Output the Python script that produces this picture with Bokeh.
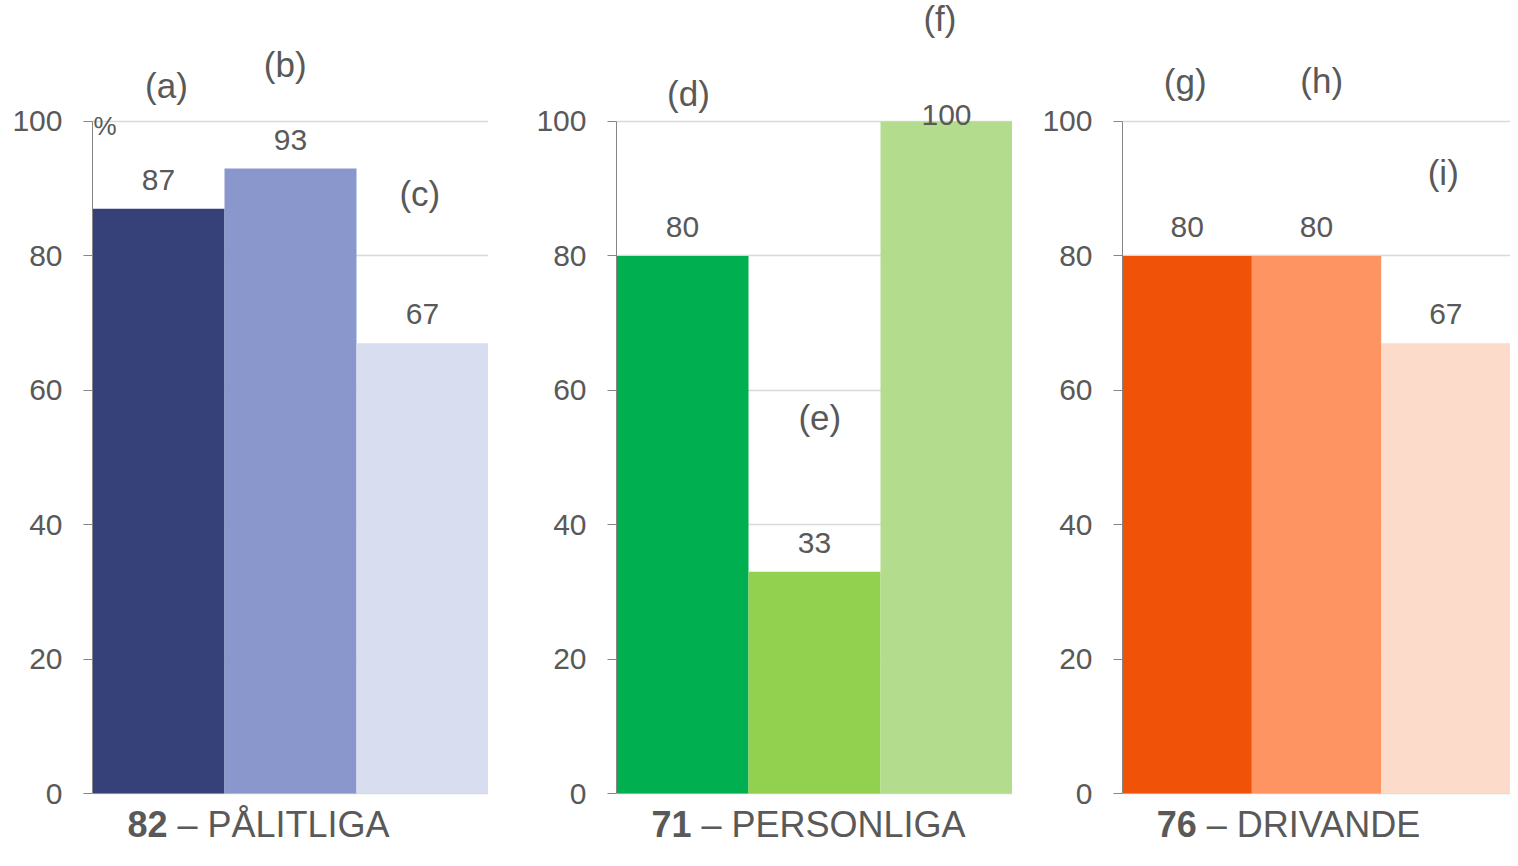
from bokeh.plotting import figure
from bokeh.models import ColumnDataSource, FixedTicker
from bokeh.layouts import row
from bokeh.core.properties import value
from bokeh.embed import file_html
from bokeh.resources import INLINE

# ---- data ----
panel_scores = ["82", "71", "76"]
panel_names = ["\u2013 P\u00c5LITLIGA", "\u2013 PERSONLIGA", "\u2013 DRIVANDE"]
letters = [["(a)", "(b)", "(c)"], ["(d)", "(e)", "(f)"], ["(g)", "(h)", "(i)"]]
values_palitliga = [87, 93, 67]
values_personliga = [80, 33, 100]
values_drivande = [80, 80, 67]
colors_palitliga = ["#36417A", "#8A97CD", "#D8DDF0"]
colors_personliga = ["#00AF50", "#92D050", "#B4DC8D"]
colors_drivande = ["#F05308", "#FD9462", "#FCDBCB"]
y_ticks = [0, 20, 40, 60, 80, 100]

# ---- layout (positions only) ----
letter_x = [[0.56, 1.46, 2.48], [0.545, 1.54, 2.45], [0.485, 1.54, 2.48]]
letter_y = [[105.3, 108.5, 89.3], [104.2, 55.9, 115.3], [105.9, 106.1, 92.4]]
left_borders = [92, 128, 110]
frame_widths = [396, 396, 388]
Y_RANGE = (-8.48, 118.0)
HEIGHT = 850
FONT = "Liberation Sans"
TXT = "#595959"

all_values = [values_palitliga, values_personliga, values_drivande]
all_colors = [colors_palitliga, colors_personliga, colors_drivande]

figs = []
for i in range(3):
    vals = all_values[i]
    p = figure(width=left_borders[i] + frame_widths[i], height=HEIGHT,
               x_range=(0, 3), y_range=Y_RANGE,
               output_backend="svg", toolbar_location=None,
               x_axis_location=None, min_border_left=left_borders[i],
               min_border_right=0, min_border_top=0, min_border_bottom=0)
    p.outline_line_color = None
    p.xgrid.visible = False
    p.ygrid.ticker = FixedTicker(ticks=y_ticks)
    p.ygrid.grid_line_color = "#D9D9D9"
    p.ygrid.grid_line_width = 1.5
    ax = p.yaxis[0]
    ax.ticker = FixedTicker(ticks=y_ticks)
    ax.bounds = (0, 100)
    ax.axis_line_color = "#868686"
    ax.major_tick_line_color = "#868686"
    ax.major_tick_out = 9
    ax.major_tick_in = 0
    ax.minor_tick_line_color = None
    ax.major_label_standoff = 21
    ax.major_label_text_font = FONT
    ax.major_label_text_font_size = "30px"
    ax.major_label_text_color = TXT

    src = ColumnDataSource(dict(
        x=[0.5, 1.5, 2.5], top=vals, color=all_colors[i],
        label=[str(v) for v in vals],
        ly=[min(v + 4.3, 101.0) for v in vals],
        lx=letter_x[i], lyy=letter_y[i], letter=letters[i],
    ))
    p.vbar(x="x", top="top", bottom=0, width=1, color="color", line_color=None, source=src)
    p.text(x="x", y="ly", text="label", source=src, text_align="center",
           text_baseline="middle", text_font=value(FONT),
           text_font_size="30px", text_color=TXT)
    p.text(x="lx", y="lyy", text="letter", source=src, text_align="center",
           text_baseline="middle", text_font=value(FONT),
           text_font_size="35px", text_color=TXT)
    # panel title: bold score + name
    p.text(x=[0.265], y=[-4.6], text=[panel_scores[i]], text_align="left",
           text_baseline="middle", text_font=value(FONT), text_font_style="bold",
           text_font_size="36px", text_color=TXT)
    p.text(x=[0.265], y=[-4.6], text=[panel_names[i]], x_offset=50, text_align="left",
           text_baseline="middle", text_font=value(FONT),
           text_font_size="36px", text_color=TXT)
    if i == 0:
        p.text(x=[0], y=[99.4], text=["%"], x_offset=1, text_align="left",
               text_baseline="middle", text_font=value(FONT),
               text_font_size="26px", text_color=TXT)
    figs.append(p)

layout = row(*figs, spacing=0)
open("out.html", "w").write(file_html(layout, INLINE))
